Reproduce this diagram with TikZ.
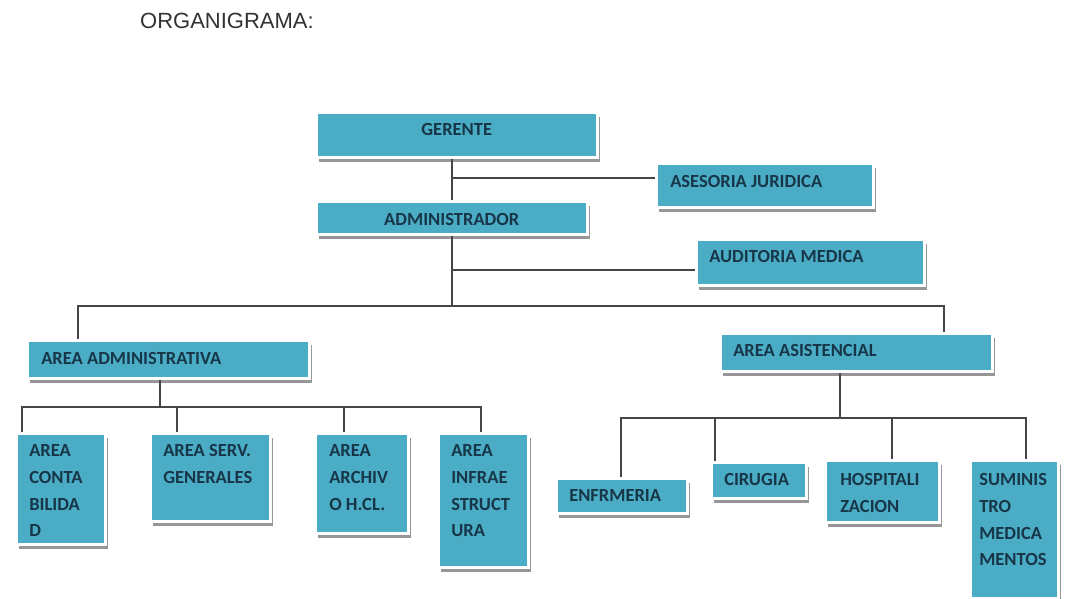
\documentclass[tikz,border=0pt]{standalone}
\usepackage{fontspec}
\setmainfont{Carlito}
\newfontfamily\titlefont{Liberation Sans}
\usetikzlibrary{shadows}

\definecolor{boxblue}{RGB}{75,172,198}
\definecolor{boxtext}{RGB}{23,54,72}
\definecolor{linegray}{RGB}{70,70,70}
\definecolor{titlegray}{RGB}{50,50,50}
\definecolor{shadowgray}{RGB}{150,150,150}

\begin{document}
\begin{tikzpicture}[x=1pt, y=-1pt,
  box/.style={fill=boxblue, draw=white, line width=2.5pt, anchor=north west,
    inner ysep=0pt, align=flush left, text=boxtext,
    font=\fontsize{18.5}{26.7}\selectfont\bfseries,
    drop shadow={shadow xshift=3pt, shadow yshift=-5pt, fill=shadowgray, opacity=1}},
  link/.style={draw=linegray, line width=2pt},
  title/.style={anchor=base west, inner sep=0pt, text=titlegray,
    font=\titlefont\fontsize{22}{26}\selectfont}]

\useasboundingbox (0,0) rectangle (1065,598);

% Title
\node[title] (title) at (140,28) {ORGANIGRAMA:};

% Top levels
\node[box, align=center, text width=281pt, inner xsep=0pt, text height=23pt, text depth=22pt] (gerente) at (315,111) {GERENTE};
\node[box, text width=189pt, inner xsep=14pt, text height=24.5pt, text depth=19.5pt] (asesoria) at (655,162) {ASESORIA JURIDICA};
\node[box, align=center, text width=271pt, inner xsep=0pt, text height=24.5pt, text depth=8.5pt] (admin) at (315,200) {ADMINISTRADOR};
\node[box, text width=202pt, inner xsep=13pt, text height=23.5pt, text depth=22.5pt] (auditoria) at (695,238) {AUDITORIA MEDICA};

% Areas
\node[box, text width=254pt, inner xsep=14pt, text height=24.5pt, text depth=13.5pt] (areaadm) at (26,339) {AREA ADMINISTRATIVA};
\node[box, text width=246pt, inner xsep=13pt, text height=23.5pt, text depth=14.5pt] (areaasis) at (719,332) {AREA ASISTENCIAL};

% Administrative units
\node[box, text width=63pt, inner xsep=13pt, text height=23.5pt, text depth=87.5pt] (conta) at (15,432) {AREA\\CONTA\\BILIDA\\D};
\node[box, text width=94pt, inner xsep=13pt, text height=23.5pt, text depth=64.5pt] (serv) at (149,432) {AREA SERV.\\GENERALES};
\node[box, text width=65pt, inner xsep=14pt, text height=23.5pt, text depth=76.5pt] (archiv) at (314,432) {AREA\\ARCHIV\\O H.CL.};
\node[box, text width=64pt, inner xsep=13pt, text height=23.5pt, text depth=110.5pt] (infrae) at (437,432) {AREA\\INFRAE\\STRUCT\\URA};

% Care units
\node[box, text width=105pt, inner xsep=13pt, text height=23.5pt, text depth=11.5pt] (enfr) at (555,477) {ENFRMERIA};
\node[box, text width=69pt, inner xsep=13pt, text height=23.5pt, text depth=12.5pt] (cirugia) at (710,461) {CIRUGIA};
\node[box, text width=84pt, inner xsep=15pt, text height=25.5pt, text depth=36.5pt] (hosp) at (824,459) {HOSPITALI\\ZACION};
\node[box, text width=70pt, inner xsep=9pt, text height=25.5pt, text depth=112.5pt] (sumin) at (969,459) {SUMINIS\\TRO\\MEDICA\\MENTOS};

% Lines
\draw[link] (gerente.south -| admin.north) -- (admin.north);
\draw[link] ([yshift=7pt]asesoria.west) -| (admin.north);
\draw[link] ([yshift=-8pt]auditoria.west) -| (admin.south);

\coordinate (topbus) at ([yshift=-70pt]admin.south);
\draw[link] (admin.south) -- (topbus);
\draw[link] ([xshift=52pt]areaadm.north west) |- (topbus);
\draw[link] ([xshift=-50pt]areaasis.north east) |- (topbus);

\coordinate (admbus) at ([xshift=-8pt, yshift=-27pt]areaadm.south);
\draw[link] ([xshift=-8pt]areaadm.south) -- (admbus);
\foreach \n/\d in {conta/7, serv/28, archiv/30, infrae/44}
  \draw[link] ([xshift=\d pt]\n.north west) |- (admbus);

\coordinate (asisbus) at ([xshift=-16pt, yshift=-45pt]areaasis.south);
\draw[link] ([xshift=-16pt]areaasis.south) -- (asisbus);
\foreach \n/\d in {enfr/66, cirugia/5, hosp/68, sumin/57}
  \draw[link] ([xshift=\d pt]\n.north west) |- (asisbus);

\end{tikzpicture}
\end{document}
